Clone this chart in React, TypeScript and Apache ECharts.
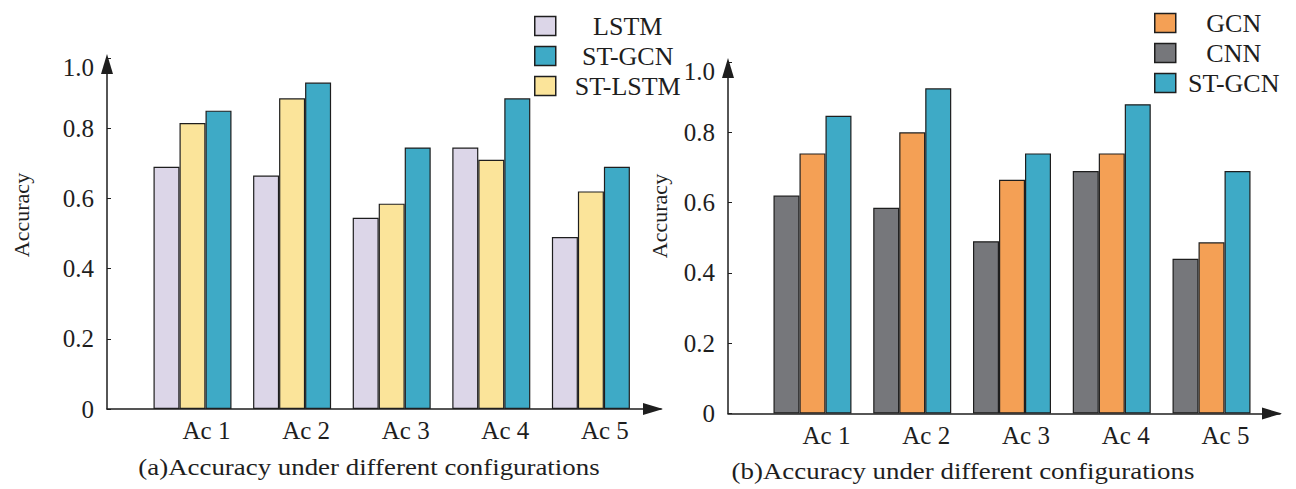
import React, { useEffect, useRef } from 'react';
import * as echarts from 'echarts';

const categories = ['Ac 1', 'Ac 2', 'Ac 3', 'Ac 4', 'Ac 5'];
// chart (a)
const lstm = [0.69, 0.665, 0.545, 0.745, 0.49];
const stLstm = [0.815, 0.885, 0.585, 0.71, 0.62];
const stGcnA = [0.85, 0.93, 0.745, 0.885, 0.69];
// chart (b)
const cnn = [0.62, 0.585, 0.49, 0.69, 0.44];
const gcn = [0.74, 0.8, 0.665, 0.74, 0.487];
const stGcnB = [0.847, 0.925, 0.74, 0.88, 0.69];

const legendA = ['LSTM', 'ST-GCN', 'ST-LSTM'];
const legendB = ['GCN', 'CNN', 'ST-GCN'];
const captionA = '(a)Accuracy under different configurations';
const captionB = '(b)Accuracy under different configurations';
const yName = 'Accuracy';

const FONT = '"Liberation Serif", "Times New Roman", serif';
const INK = '#1e1e1e';
const COLORS: Record<string, string> = {
  LSTM: '#dcd6e8',
  'ST-LSTM': '#fbe49a',
  'ST-GCN': '#3eaac6',
  GCN: '#f4a055',
  CNN: '#76777b',
};

function axisX(gridIndex: number) {
  return {
    type: 'value', gridIndex, min: 0, max: 1,
    axisLine: {
      show: true, onZero: false, symbol: ['none', 'triangle'], symbolSize: [12, 20], symbolOffset: [0, -8],
      lineStyle: { color: INK, width: 1.5 },
    },
    axisTick: { show: false }, axisLabel: { show: false }, splitLine: { show: false },
  };
}
function axisY(gridIndex: number) {
  return {
    type: 'value', gridIndex, min: 0, max: 1, interval: 0.2,
    axisLine: {
      show: true, onZero: false, symbol: ['none', 'triangle'], symbolSize: [12, 20], symbolOffset: [0, -6],
      lineStyle: { color: INK, width: 1.5 },
    },
    axisTick: { show: true, inside: true, length: 4, lineStyle: { color: INK, width: 1 } },
    splitLine: { show: false },
    axisLabel: {
      fontSize: 25, color: INK, fontFamily: FONT, margin: 13,
      formatter: (v: number) => (v === 0 ? '0' : v >= 0.999 ? '{top|1.0}' : v.toFixed(1)),
      rich: { top: { fontSize: 25, color: INK, fontFamily: FONT, padding: [19, 0, 0, 0] } },
    },
  };
}
function catX(gridIndex: number) {
  return {
    type: 'category', gridIndex, data: categories,
    axisLine: { show: false }, axisTick: { show: false }, splitLine: { show: false },
    axisLabel: { fontSize: 25, color: INK, fontFamily: FONT, margin: 9, padding: [0, 0, 0, 28] },
  };
}
function hiddenY(gridIndex: number) {
  return { type: 'value', gridIndex, min: 0, max: 1, show: false, splitLine: { show: false } };
}
function bar(name: string, data: number[], idx: number) {
  return {
    type: 'bar', name, data, xAxisIndex: idx, yAxisIndex: idx, barWidth: 26, barGap: '0%',
    itemStyle: { color: COLORS[name], borderColor: INK, borderWidth: 1.2 },
  };
}
function legend(data: string[], left: number, top: number, w: number) {
  return {
    data, orient: 'vertical', left, top, itemWidth: 21, itemHeight: 19, itemGap: 4, icon: 'rect',
    itemStyle: { borderColor: INK, borderWidth: 1.5 },
    formatter: (n: string) => `{c|${n}}`,
    textStyle: { rich: { c: { width: w, align: 'center', fontSize: 26, lineHeight: 26, fontFamily: FONT, color: INK } } },
  };
}

export default function App() {
  const ref = useRef<HTMLDivElement>(null);
  useEffect(() => {
    if (!ref.current) return;
    const chart = echarts.init(ref.current, null, { renderer: 'svg' });
    const nameStyle = { text: yName, fontSize: 22, fontFamily: FONT, fill: INK, align: 'center', verticalAlign: 'middle' };
    const capStyle = { fontSize: 24, fontFamily: FONT, fill: INK, align: 'center', verticalAlign: 'middle' };
    chart.setOption({
      animation: false,
      backgroundColor: '#ffffff',
      grid: [
        { left: 107, top: 58, width: 554, height: 351 },
        { left: 142.7, top: 58, width: 498, height: 351 },
        { left: 728, top: 62, width: 552, height: 351.5 },
        { left: 762.6, top: 62, width: 498.8, height: 351.5 },
      ],
      xAxis: [axisX(0), catX(1), axisX(2), catX(3)],
      yAxis: [axisY(0), hiddenY(1), axisY(2), hiddenY(3)],
      legend: [legend(legendA, 529, 8, 134), legend(legendB, 1149, 5, 106)],
      series: [
        bar('LSTM', lstm, 1),
        bar('ST-LSTM', stLstm, 1),
        bar('ST-GCN', stGcnA, 1),
        bar('CNN', cnn, 3),
        bar('GCN', gcn, 3),
        bar('ST-GCN', stGcnB, 3),
      ],
      graphic: [
        { type: 'text', x: 21, y: 215, rotation: Math.PI / 2, style: nameStyle },
        { type: 'text', x: 659, y: 216, rotation: Math.PI / 2, style: nameStyle },
        { type: 'text', x: 369, y: 467, scaleX: 1.12, style: { ...capStyle, text: captionA } },
        { type: 'text', x: 963, y: 471, scaleX: 1.12, style: { ...capStyle, text: captionB } },
      ],
    });
    return () => chart.dispose();
  }, []);
  return (
    <div
      ref={ref}
      style={{ position: 'absolute', left: 0, top: 0, width: 1296, height: 489, background: '#fff' }}
    />
  );
}
